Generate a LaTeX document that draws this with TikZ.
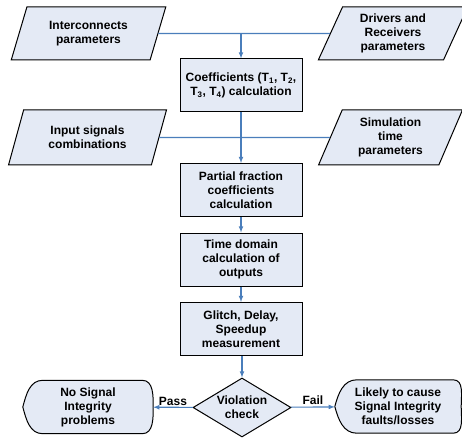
\documentclass[tikz,border=0pt]{standalone}
\usepackage{fontspec}
\setmainfont{Liberation Sans}
\usetikzlibrary{shapes.geometric, arrows, backgrounds}
\definecolor{boxfill}{RGB}{228,234,245}
\definecolor{flowblue}{RGB}{74,126,187}

\begin{document}
\begin{tikzpicture}[x=1pt, y=-1pt, node distance=69.5pt, font=\fontsize{12}{14}\selectfont\bfseries]
\tikzstyle{line}=[draw=flowblue, line width=1.1pt]
\tikzstyle{arrow}=[draw=flowblue, line width=1.1pt, -latex]
\tikzstyle{process} = [rectangle, minimum width=122pt, minimum height=53pt, inner sep=0pt, align=center, draw=black, line width=1pt, fill=boxfill]
\tikzstyle{io} = [trapezium, trapezium left angle=68, trapezium right angle=112, trapezium stretches=true, minimum height=53pt, inner sep=0pt, align=center, draw=black, line width=1pt, fill=boxfill]
\tikzstyle{decision} = [diamond, aspect=1.66, minimum width=98pt, minimum height=59pt, inner sep=0pt, align=center, draw=black, line width=1pt, fill=boxfill]
\tikzstyle{display} = [rectangle, minimum height=53pt, inner sep=0pt, align=center]
\tikzstyle{displayline} = [draw=black, line width=1pt, fill=boxfill]

\useasboundingbox (0,0) rectangle (462,438);

\node (interc) [io, minimum width=155pt] at (88.5,33.5) {Interconnects\\parameters};
\node (drivers) [io, minimum width=150pt] at (393,33.5) {Drivers and\\Receivers\\parameters};
\node (coef) [process] at (241,85.5) {Coefficients (T\textsubscript{1}, T\textsubscript{2},\\T\textsubscript{3}, T\textsubscript{4}) calculation};
\node (inputs) [io, minimum width=159pt, minimum height=55pt] at (87.5,137.5) {Input signals\\combinations};
\node (simtime) [io, minimum width=145pt, minimum height=55pt] at (390.5,137.5) {Simulation\\time\\parameters};
\node (partial) [process, below of=coef, yshift=-35pt] {Partial fraction\\coefficients\\calculation};
\node (timedom) [process, below of=partial] {Time domain\\calculation of\\outputs};
\node (glitch) [process, below of=timedom] {Glitch, Delay,\\Speedup\\measurement};
\node (check) [decision, below of=glitch, yshift=-9pt, xshift=1pt] {Violation\\check};
\node (pass) [display, minimum width=130pt] at (88,407) {No Signal\\Integrity\\problems};
\node (fail) [display, minimum width=126pt] at (398,406.5) {Likely to cause\\Signal Integrity\\faults/losses};

\begin{pgfonlayer}{background}
\path [displayline] ([xshift=20pt]pass.north west) -- ([xshift=-11pt]pass.north east) to[out=0,in=90] (pass.east) to[out=-90,in=0] ([xshift=-11pt]pass.south east) -- ([xshift=20pt]pass.south west) to[out=180,in=-75] (pass.west) to[out=75,in=180] cycle;
\path [displayline] ([xshift=22pt]fail.north west) -- ([xshift=-8pt]fail.north east) to[out=0,in=90] (fail.east) to[out=-90,in=0] ([xshift=-8pt]fail.south east) -- ([xshift=22pt]fail.south west) to[out=180,in=-75] (fail.west) to[out=75,in=180] cycle;
\end{pgfonlayer}

\draw [line] (interc) -- (drivers);
\draw [arrow] (interc -| coef) -- (coef);
\draw [line] (inputs) -- (simtime);
\draw [arrow] (coef) -- (partial);
\draw [arrow] (partial) -- (timedom);
\draw [arrow] (timedom) -- (glitch);
\draw [arrow] (glitch.south -| check) -- (check);
\draw [arrow] (check) -- node[above, inner sep=1.5pt] {Pass} (pass);
\draw [arrow] (check) -- node[above, inner sep=1.5pt] {Fail} (fail);

\end{tikzpicture}
\end{document}
